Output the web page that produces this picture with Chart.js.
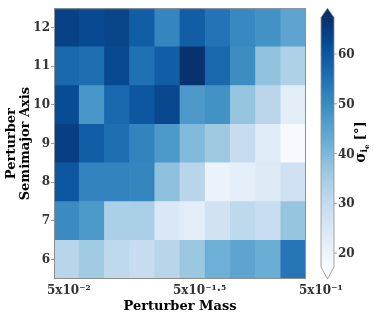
<!DOCTYPE html>
<html>
<head>
<meta charset="utf-8">
<script src="https://cdn.jsdelivr.net/npm/chart.js@4.4.1/dist/chart.umd.min.js"></script>
<style>
html, body { margin: 0; padding: 0; background: #fff; }
</style>
</head>
<body>
<canvas id="chart" width="374" height="316"></canvas>
<script>
// Data: columns are the 10 perturber mass bins (left to right), one array per semimajor axis row
const massBins = ['m1', 'm2', 'm3', 'm4', 'm5', 'm6', 'm7', 'm8', 'm9', 'm10'];
const massTicks = [-2, -1.5, -1];
const massLabels = ['5x10⁻²', '5x10⁻¹·⁵', '5x10⁻¹'];
const semimajorTicks = [6, 7, 8, 9, 10, 11, 12];

const sigma12 = [64, 62.5, 63.5, 58.5, 51, 58.5, 54.5, 50.5, 48.5, 44.5];
const sigma11 = [56.5, 55.5, 62.5, 55, 58.5, 67, 56.5, 49.5, 37.5, 33.5];
const sigma10 = [62, 47.5, 56.5, 60, 63, 47, 48.5, 37, 31.5, 22.5];
const sigma9 = [64.5, 58.5, 55.5, 51.5, 47, 39.5, 36, 29.5, 23, 17.5];
const sigma8 = [60, 51.5, 51.5, 51, 38, 32, 20.5, 22, 23.5, 27.5];
const sigma7 = [50, 47, 34, 34, 24.5, 22.5, 27, 31, 29, 37];
const sigma6 = [32, 35.7, 31, 29.5, 32, 36.5, 42, 44.5, 42.5, 54];

const rows = [
    { a: 6, values: sigma6 },
    { a: 7, values: sigma7 },
    { a: 8, values: sigma8 },
    { a: 9, values: sigma9 },
    { a: 10, values: sigma10 },
    { a: 11, values: sigma11 },
    { a: 12, values: sigma12 }
];

const cbTicks = [20, 30, 40, 50, 60];
const cbMin = 17.2;
const cbMax = 67.4;

// Blues colormap
const blues = ['#f7fbff', '#deebf7', '#c6dbef', '#9ecae1', '#6baed6', '#4292c6', '#2171b5', '#08519c', '#08306b'];
const hexToRgb = h => [1, 3, 5].map(i => parseInt(h.slice(i, i + 2), 16));
const bluesRgb = blues.map(hexToRgb);

function bluesColor(v) {
    let t = (v - cbMin) / (cbMax - cbMin);
    t = Math.max(0, Math.min(1, t));
    const pos = t * (bluesRgb.length - 1);
    const i = Math.min(Math.floor(pos), bluesRgb.length - 2);
    const f = pos - i;
    const c = bluesRgb[i].map((c0, k) => Math.round(c0 + (bluesRgb[i + 1][k] - c0) * f));
    return `rgb(${c[0]},${c[1]},${c[2]})`;
}

const serif = 'DejaVu Serif';
const tickColor = '#333';

// Colorbar + frame
const colorbarPlugin = {
    id: 'colorbar',
    afterDraw(chart) {
        const { ctx, chartArea: a } = chart;
        ctx.save();
        ctx.strokeStyle = '#8f8f8f';
        ctx.lineWidth = 1;
        ctx.strokeRect(a.left + 0.5, a.top + 0.5, a.right - a.left - 1, a.bottom - a.top - 1);

        const x0 = a.right + 15, w = 13;
        const top = a.top + 9, bot = a.bottom - 12;
        const g = ctx.createLinearGradient(0, bot, 0, top);
        blues.forEach((c, i) => g.addColorStop(i / (blues.length - 1), c));
        ctx.fillStyle = g;
        ctx.fillRect(x0, top, w, bot - top);

        // extend arrows
        ctx.fillStyle = blues[blues.length - 1];
        ctx.beginPath();
        ctx.moveTo(x0, top + 0.5);
        ctx.lineTo(x0 + w / 2, a.top);
        ctx.lineTo(x0 + w, top + 0.5);
        ctx.closePath();
        ctx.fill();
        ctx.fillStyle = blues[0];
        ctx.beginPath();
        ctx.moveTo(x0, bot - 0.5);
        ctx.lineTo(x0 + w / 2, a.bottom);
        ctx.lineTo(x0 + w, bot - 0.5);
        ctx.closePath();
        ctx.fill();

        ctx.strokeStyle = '#8f8f8f';
        ctx.lineWidth = 0.8;
        ctx.beginPath();
        ctx.moveTo(x0, top);
        ctx.lineTo(x0 + w / 2, a.top);
        ctx.lineTo(x0 + w, top);
        ctx.lineTo(x0 + w, bot);
        ctx.lineTo(x0 + w / 2, a.bottom);
        ctx.lineTo(x0, bot);
        ctx.closePath();
        ctx.stroke();

        // ticks
        ctx.font = `bold 12px "${serif}"`;
        ctx.fillStyle = tickColor;
        ctx.textAlign = 'left';
        ctx.textBaseline = 'middle';
        cbTicks.forEach(v => {
            const y = bot - (v - cbMin) / (cbMax - cbMin) * (bot - top);
            ctx.beginPath();
            ctx.moveTo(x0 + w, y);
            ctx.lineTo(x0 + w + 3, y);
            ctx.stroke();
            ctx.fillText(String(v), x0 + w + 4, y + 1);
        });

        // label
        ctx.translate(a.right + 55, (top + bot) / 2);
        ctx.rotate(-Math.PI / 2);
        ctx.fillStyle = '#000';
        const parts = [['σ', 14, 0], ['i', 9, 4], ['e', 7, 6], [' [°]', 13, 0]];
        let total = 0;
        parts.forEach(p => { ctx.font = `bold ${p[1]}px "${serif}"`; total += ctx.measureText(p[0]).width; });
        let x = -total / 2;
        parts.forEach(p => {
            ctx.font = `bold ${p[1]}px "${serif}"`;
            ctx.fillText(p[0], x, p[2]);
            x += ctx.measureText(p[0]).width;
        });
        ctx.restore();
    }
};

const datasets = rows.map(r => ({
    data: r.values.map(() => [r.a - 0.5, r.a + 0.5]),
    backgroundColor: r.values.map(bluesColor),
    borderWidth: 0,
    grouped: false,
    barPercentage: 1,
    categoryPercentage: 1,
    xAxisID: 'x',
    yAxisID: 'y'
}));

new Chart(document.getElementById('chart'), {
    type: 'bar',
    data: { labels: massBins, datasets },
    options: {
        responsive: false,
        animation: false,
        layout: { padding: { top: 4, right: 68, left: 0, bottom: 0 } },
        plugins: { legend: { display: false }, tooltip: { enabled: false } },
        scales: {
            x: { type: 'category', display: false, offset: true },
            x2: {
                type: 'linear',
                position: 'bottom',
                min: -2,
                max: -1,
                offset: false,
                afterBuildTicks: s => { s.ticks = massTicks.map(v => ({ value: v })); },
                afterFit: s => { s.height = 37; },
                grid: { display: false, offset: false },
                border: { display: false },
                ticks: {
                    callback: (v, i) => massLabels[i],
                    align: 'start',
                    labelOffset: -7,
                    padding: -3,
                    maxRotation: 0,
                    autoSkip: false,
                    color: tickColor,
                    font: { family: serif, size: 12, weight: 'bold' }
                },
                title: {
                    display: true,
                    text: 'Perturber Mass',
                    color: '#000',
                    padding: { top: 0, bottom: 2 },
                    font: { family: serif, size: 13, weight: 'bold' }
                }
            },
            y: {
                type: 'linear',
                min: 5.5,
                max: 12.5,
                afterBuildTicks: s => { s.ticks = semimajorTicks.map(v => ({ value: v })); },
                afterFit: s => { s.width = 54; },
                grid: { drawOnChartArea: false, tickLength: 3, color: '#999' },
                border: { display: false },
                ticks: {
                    padding: 1,
                    color: tickColor,
                    font: { family: serif, size: 12, weight: 'bold' }
                },
                title: {
                    display: true,
                    text: ['Perturber', 'Semimajor Axis'],
                    color: '#000',
                    padding: { top: 5, bottom: 0 },
                    font: { family: serif, size: 13, weight: 'bold', lineHeight: 1.05 }
                }
            }
        }
    },
    plugins: [colorbarPlugin]
});
</script>
</body>
</html>
